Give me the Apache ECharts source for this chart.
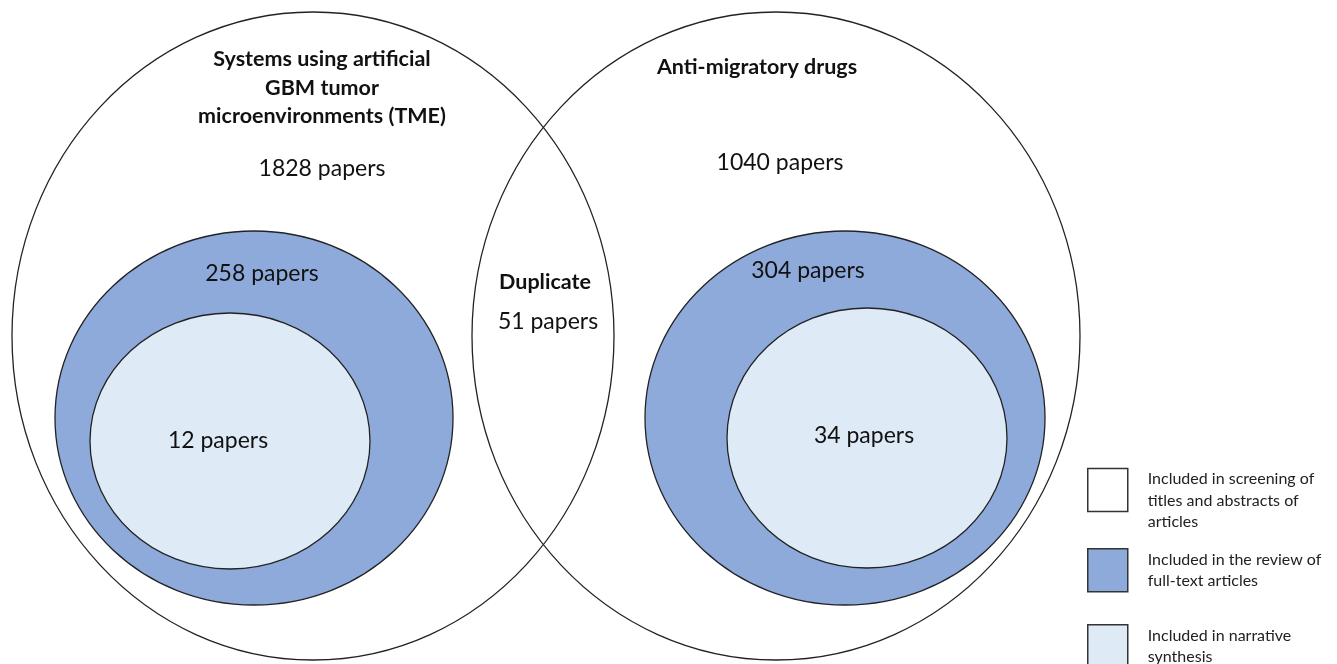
<!DOCTYPE html>
<html>
<head>
<meta charset="utf-8">
<script src="https://cdn.jsdelivr.net/npm/echarts@6/dist/echarts.min.js"></script>
<style>
html,body{margin:0;padding:0;background:#fff;}
#chart{width:1337px;height:664px;}
</style>
</head>
<body>
<div id="chart"></div>
<script>
// ---- data ----
const groups = ['Systems using artificial\nGBM tumor\nmicroenvironments (TME)', 'Anti-migratory drugs'];
const stages = ['Included in screening of\ntitles and abstracts of\narticles', 'Included in the review of\nfull-text articles', 'Included in narrative\nsynthesis'];
const screenedPapers = [1828, 1040];
const fullTextPapers = [258, 304];
const synthesisPapers = [12, 34];
const duplicateLabel = 'Duplicate';
const duplicatePapers = 51;

// ---- layout (pixel space of the hidden axes) ----
// ellipse geometry per stage: [cx, cy, rx, ry] for each group
const ellScreen = [[313, 336, 301, 324], [776, 336, 304, 324]];
const ellFull = [[254, 418, 199, 187], [845, 418, 200, 187]];
const ellSynth = [[230, 441, 140, 128], [867, 438, 140, 130]];
const titlePos = [[322, 88], [757, 67]];
const screenPos = [[322, 169], [780, 163]];
const fullPos = [[262, 274], [808, 271]];
const synthPos = [[218, 441], [864, 436]];
const dupTitlePos = [545, 282];
const dupCountPos = [548, 322];

const colors = ['#ffffff', '#8eaadb', '#deebf7'];
const stroke = '#222222';
const FONT = 'Lato';

function ellipseSeries(name, geom, color, z) {
  return {
    name: name,
    type: 'custom',
    coordinateSystem: 'cartesian2d',
    z: z,
    itemStyle: { color: color, borderColor: stroke, borderWidth: 1.3 },
    data: geom.map(g => g.slice()),
    encode: { x: 0, y: 1 },
    renderItem: function (params, api) {
      const c = api.coord([api.value(0), api.value(1)]);
      const s = api.size([api.value(2), api.value(3)]);
      return {
        type: 'ellipse',
        shape: { cx: c[0], cy: c[1], rx: s[0], ry: s[1] },
        style: { fill: name === stages[0] ? 'none' : color, stroke: stroke, lineWidth: 1.3 },
        silent: true
      };
    }
  };
}

function textSeries(items, z) {
  return {
    type: 'custom',
    coordinateSystem: 'cartesian2d',
    z: z,
    silent: true,
    data: items.map(it => [it.pos[0], it.pos[1], it.text, it.bold ? 1 : 0]),
    renderItem: function (params, api) {
      const d = items[params.dataIndex];
      const c = api.coord([d.pos[0], d.pos[1]]);
      return {
        type: 'text',
        x: c[0], y: c[1],
        style: {
          text: d.text,
          fontFamily: FONT,
          fontSize: d.bold ? 21.5 : 23,
          fontWeight: d.bold ? 'bold' : 'normal',
          lineHeight: 28.5,
          fill: '#111',
          align: 'center',
          verticalAlign: 'middle'
        }
      };
    }
  };
}

const textItems = [];
groups.forEach((g, i) => textItems.push({ text: g, pos: titlePos[i], bold: true }));
screenedPapers.forEach((v, i) => textItems.push({ text: v + ' papers', pos: screenPos[i] }));
fullTextPapers.forEach((v, i) => textItems.push({ text: v + ' papers', pos: fullPos[i] }));
synthesisPapers.forEach((v, i) => textItems.push({ text: v + ' papers', pos: synthPos[i] }));
textItems.push({ text: duplicateLabel, pos: dupTitlePos, bold: true });
textItems.push({ text: duplicatePapers + ' papers', pos: dupCountPos });

const legendTops = [447, 548, 624];

const chart = echarts.init(document.getElementById('chart'), null, { renderer: 'canvas' });
chart.setOption({
  backgroundColor: '#ffffff',
  animation: false,
  grid: { left: 0, right: 0, top: 0, bottom: 0 },
  xAxis: { type: 'value', min: 0, max: 1337, show: false },
  yAxis: { type: 'value', min: 0, max: 664, inverse: true, show: false },
  legend: stages.map((s, i) => ({
    data: [{ name: s, icon: 'rect', itemStyle: { color: colors[i], borderColor: '#333', borderWidth: 1.5 } }],
    formatter: function (name) { return i === 0 ? '\n' + name : name; },
    left: 1087,
    top: legendTops[i],
    orient: 'vertical',
    itemWidth: 40,
    itemHeight: 43,
    itemGap: 0,
    selectedMode: false,
    padding: 0,
    textStyle: { fontFamily: FONT, fontSize: 16, lineHeight: 21.5, color: '#222', padding: [0, 0, 0, 15] }
  })),
  series: [
    ellipseSeries(stages[0], ellScreen, colors[0], 1),
    ellipseSeries(stages[1], ellFull, colors[1], 2),
    ellipseSeries(stages[2], ellSynth, colors[2], 3),
    textSeries(textItems, 10)
  ]
});
</script>
</body>
</html>
